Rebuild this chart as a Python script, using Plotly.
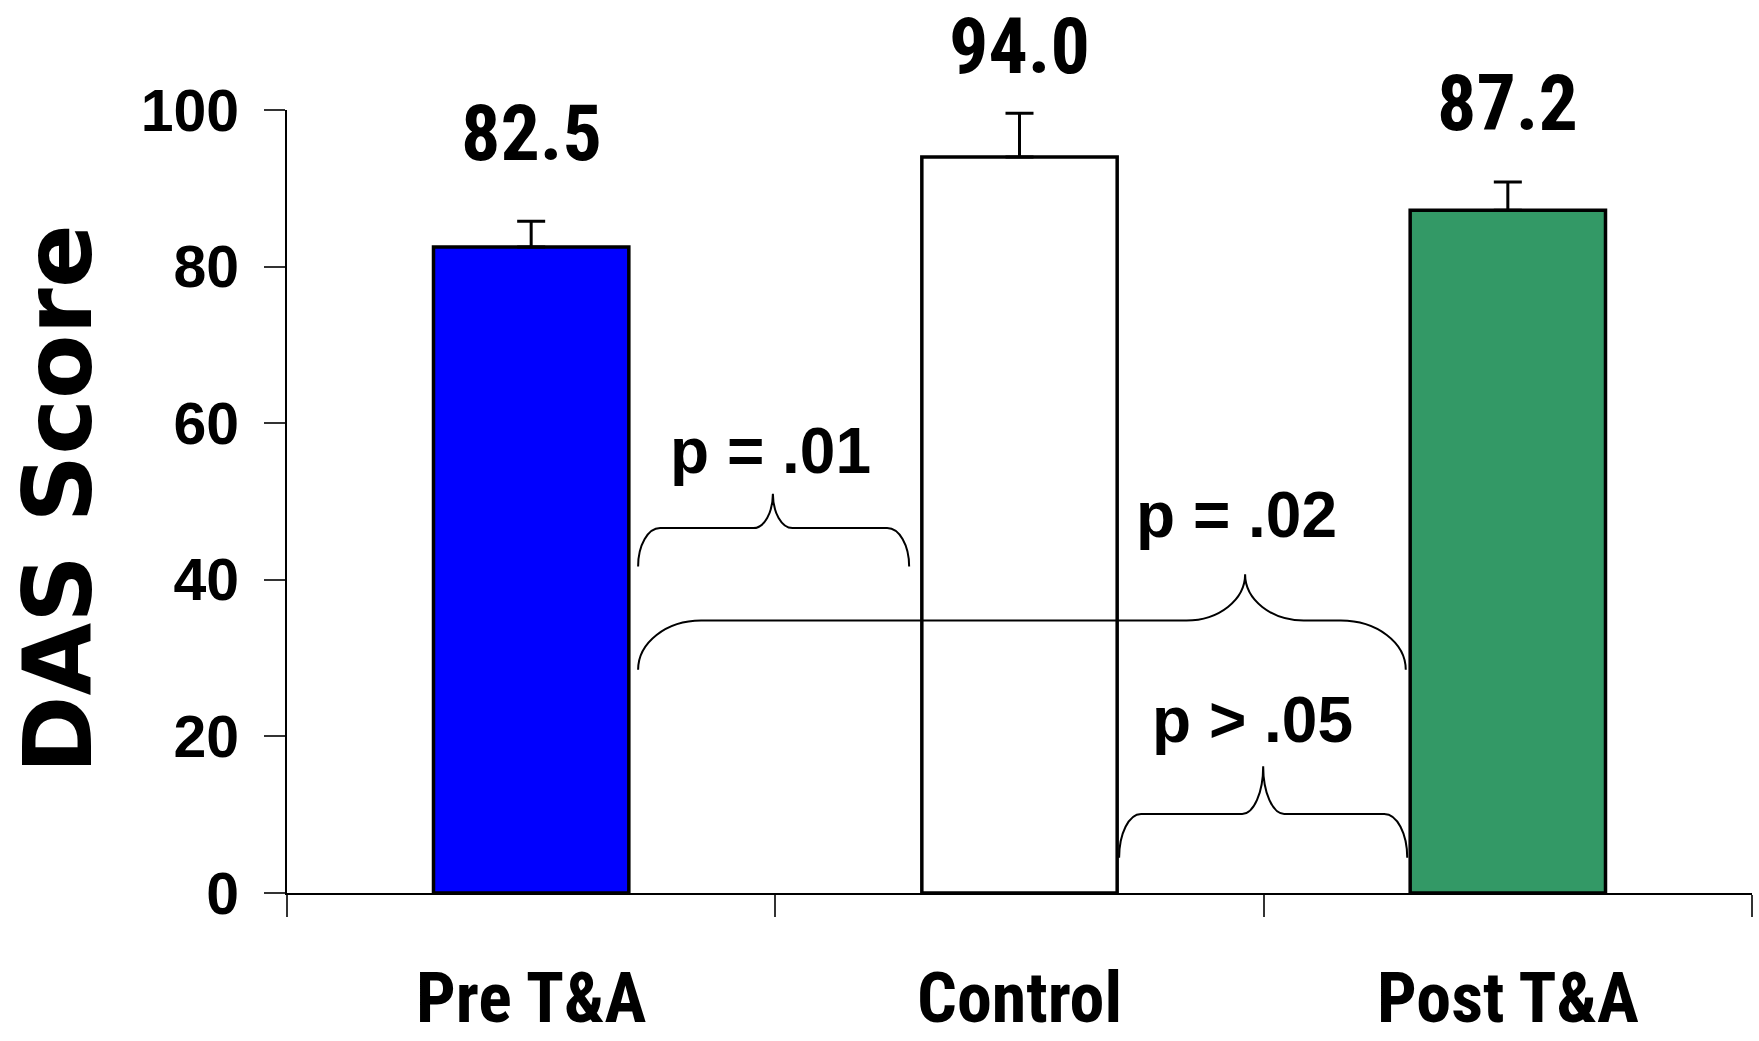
import plotly.graph_objects as go

# ---- data -------------------------------------------------------------
categories = ["Pre T&A", "Control", "Post T&A"]
das_mean = [82.5, 94.0, 87.2]
das_err = [3.3, 5.6, 3.6]
value_labels = ["82.5", "94.0", "87.2"]
y_ticks = [0, 20, 40, 60, 80, 100]

# pairwise comparisons: (left bar, right bar, label)
comparisons = [(0, 1, "p = .01"), (0, 2, "p = .02"), (1, 2, "p > .05")]

# ---- styling ----------------------------------------------------------
bar_colors = ["#0000FF", "#FFFFFF", "#339966"]
bar_width = 0.4
label_shift_px = [88, 67, 79]          # value-label lift above the error cap

# brace geometry per comparison: x ends, tip x, end y, shoulder y, tip y,
# end radius left/right, cusp radius, label x, label y
brace_geom = [
    dict(xl=0.219, xr=0.774, xc=0.495, y0=41.7, y1=46.6, y2=51.0,
         rl=0.045, rr=0.045, rc=0.040, lx=0.491, ly=56.4),
    dict(xl=0.219, xr=1.791, xc=1.462, y0=28.5, y1=34.8, y2=40.7,
         rl=0.129, rr=0.133, rc=0.120, lx=1.445, ly=48.3),
    dict(xl=1.204, xr=1.794, xc=1.499, y0=4.5, y1=10.1, y2=16.2,
         rl=0.045, rr=0.047, rc=0.043, lx=1.478, ly=22.1),
]

NARROW = "Roboto Condensed, Open Sans Condensed, Arial Narrow, sans-serif"
SANS = "Liberation Sans, Arial, Helvetica, sans-serif"
WIDE = "DejaVu Sans, Verdana, sans-serif"

x_pos = list(range(len(categories)))

fig = go.Figure()
fig.add_trace(go.Bar(
    x=x_pos, y=das_mean, width=bar_width,
    marker=dict(color=bar_colors, line=dict(color="black", width=3.5)),
    error_y=dict(type="data", symmetric=False, array=das_err,
                 arrayminus=[0] * len(das_err), color="black",
                 thickness=3, width=14),
    hoverinfo="skip", showlegend=False,
))


def brace_path(g):
    k = 0.552
    xl, xr, xc = g["xl"], g["xr"], g["xc"]
    y0, y1, y2 = g["y0"], g["y1"], g["y2"]
    rl, rr, rc = g["rl"], g["rr"], g["rc"]
    return (
        f"M {xl},{y0} "
        f"C {xl},{y0 + k * (y1 - y0)} {xl + (1 - k) * rl},{y1} {xl + rl},{y1} "
        f"L {xc - rc},{y1} "
        f"C {xc - rc + k * rc},{y1} {xc},{y2 - k * (y2 - y1)} {xc},{y2} "
        f"C {xc},{y2 - k * (y2 - y1)} {xc + rc - k * rc},{y1} {xc + rc},{y1} "
        f"L {xr - rr},{y1} "
        f"C {xr - (1 - k) * rr},{y1} {xr},{y0 + k * (y1 - y0)} {xr},{y0}"
    )


annotations = []
shapes = []

# value labels above each bar's error cap
for i, (v, e, t) in enumerate(zip(das_mean, das_err, value_labels)):
    annotations.append(dict(
        x=x_pos[i], y=v + e, xref="x", yref="y", yshift=label_shift_px[i],
        text=t, showarrow=False, xanchor="center", yanchor="middle",
        font=dict(family=NARROW, size=78, color="black", weight="bold"),
    ))

# category labels under the axis
for i, c in enumerate(categories):
    annotations.append(dict(
        x=x_pos[i], y=-0.134, xref="x", yref="paper",
        text=c, showarrow=False, xanchor="center", yanchor="middle",
        font=dict(family=NARROW, size=70, color="black", weight="bold"),
    ))

# significance braces and their labels
for (a, b, txt), g in zip(comparisons, brace_geom):
    shapes.append(dict(type="path", path=brace_path(g), xref="x", yref="y",
                       line=dict(color="black", width=2)))
    annotations.append(dict(
        x=g["lx"], y=g["ly"], xref="x", yref="y", text=txt,
        showarrow=False, xanchor="center", yanchor="middle",
        font=dict(family=SANS, size=64, color="black", weight="bold"),
    ))

# y-axis title
annotations.append(dict(
    x=-0.156, y=0.503, xref="paper", yref="paper", text="DAS Score",
    textangle=-90, showarrow=False, xanchor="center", yanchor="middle",
    font=dict(family=WIDE, size=94, color="black", weight="bold"),
))

fig.update_layout(
    width=1759, height=1041,
    margin=dict(l=287, r=7, t=110, b=148),
    paper_bgcolor="white", plot_bgcolor="white",
    shapes=shapes, annotations=annotations,
    xaxis=dict(
        range=[-0.5, 2.5], tickmode="array",
        tickvals=[-0.5, 0.5, 1.5, 2.5], ticktext=["", "", "", ""],
        ticks="outside", ticklen=22, tickwidth=1.5, tickcolor="#333",
        showline=True, linecolor="black", linewidth=2,
        showgrid=False, zeroline=False, fixedrange=True,
    ),
    yaxis=dict(
        range=[0, 100], tickmode="array", tickvals=y_ticks,
        ticktext=[str(t) for t in y_ticks],
        ticks="outside", ticklen=21, tickwidth=1.5, tickcolor="#333",
        ticklabelstandoff=13,
        tickfont=dict(family=SANS, size=59, color="black", weight="bold"),
        showline=True, linecolor="black", linewidth=2,
        showgrid=False, zeroline=False, fixedrange=True,
    ),
)

fig.write_html("out.html")
